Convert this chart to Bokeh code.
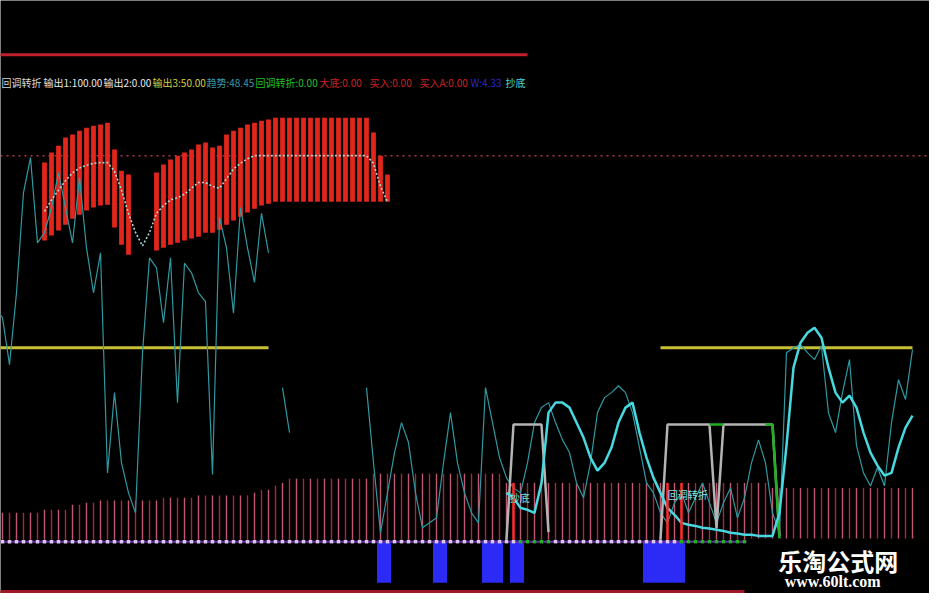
import math
from bokeh.plotting import figure
from bokeh.models import Range1d, Span, BoxAnnotation, Label, ColumnDataSource
from bokeh.core.properties import value
from bokeh.embed import file_html
from bokeh.resources import INLINE

nan = float("nan")
N = 132
idx = list(range(N))

# ---------------- data ----------------
legend_labels = ["回调转折", "输出1:100.00", "输出2:0.00", "输出3:50.00", "趋势:48.45",
                 "回调转折:0.00", "大底:0.00", "买入:0.00", "买入A:0.00", "W:4.33", "抄底"]

out1_level = 100.0
out3_level = 50.0
panel_top = 126.3
panel_bottom = -13.6
yellow_idx = list(range(0, 40)) + list(range(95, 132))

stick_top = ([nan] * 7 +
             [98.2, 100.8, 102.6, 104.7, 105.5, 106.5, 107.3, 107.8, 108.1, 108.6, 101.6, 96.1, 95.1,
              nan, nan, nan,
              95.6, 97.7, 99.0, 100.0, 100.8, 101.6, 102.9, 103.4, 102.1, 102.6, 105.5, 106.5, 107.3,
              108.1, 108.6, 109.1, 109.4] +
             [109.9] * 14 + [106.0, 100.0, 95.1] + [nan] * 75)
stick_bottom = ([nan] * 7 +
                [77.9, 79.2, 80.5, 82.0, 83.6, 84.6, 85.7, 86.5, 87.0, 87.2, 81.3, 76.8, 74.2,
                 nan, nan, nan,
                 75.3, 76.0, 76.8, 77.3, 77.9, 78.4, 78.9, 79.9, 79.9, 80.7, 82.0, 83.1, 84.1,
                 85.2, 86.2, 87.0, 87.5] +
                [88.0] * 17 + [nan] * 75)
mid_line = ([nan] * 7 +
            [85.5, 88.5, 91.0, 93.5, 95.5, 96.8, 97.5, 98.0, 98.2, 98.2, 96.0, 91.0, 85.0, 80.0,
             76.5, 80.0, 85.0, 87.0, 88.5, 89.0, 90.0, 91.5, 93.0, 93.0, 92.0, 91.5, 94.0, 96.5,
             98.0, 99.2] +
            [100.0] * 17 + [98.0, 92.0, 88.0] + [nan] * 75)

trend = [60.4, 57.8, 45.6, 64.3, 90.4, 99.5, 77.3, 80.0, 86.5, 95.6,
         86.5, 77.3, 94.3, 76.0, 64.3, 74.7, 17.4, 38.3, 20.0, 12.2,
         7.0, 48.7, 73.4, 70.8, 56.5, 73.4, 35.7, 72.0, 69.5, 64.3,
         62.0, 17.0, 83.9, 76.0, 59.0, 86.5, 76.0, 67.0, 85.0, 74.7,
         nan, 39.6, 27.9, nan, nan, nan, nan, nan, nan, nan,
         nan, nan, nan, 39.6, 20.0, 1.8, 12.2, 22.7, 30.5, 25.3,
         12.2, 3.1, 4.4, 5.7, 20.0, 33.1, 20.0, 12.2, 7.0, 4.4,
         39.6, 30.5, 21.4, 16.1, 13.5, 12.2, 20.0, 30.5, 34.4, 35.7,
         30.5, 26.0, 22.7, 14.8, 10.9, 20.0, 33.1, 37.0, 38.3, 40.1,
         38.3, 33.1, 24.0, 14.8, 12.2, 7.0, 4.4, 9.6, 12.2, 7.0,
         10.9, 14.8, 9.6, 4.4, 9.6, 13.5, 5.7, 10.9, 20.0, 26.0,
         20.0, 7.0, 1.8, 48.7, 50.0, 50.8, 48.7, 46.9, 50.5, 33.0,
         27.9, 38.3, 46.9, 24.5, 17.4, 14.0, 18.8, 14.0, 30.5, 41.7,
         36.5, 49.5]

smooth = ([nan] * 73 +
          [12.2, 10.9, 8.3, 7.8, 7.0, 14.8, 33.1, 35.7, 35.7, 34.4,
           30.5, 26.6, 21.4, 18.0, 20.0, 24.0, 30.5, 34.4, 35.7, 27.9,
           21.4, 16.1, 12.2, 8.3, 6.5, 4.4, 3.9, 3.6, 3.1, 2.9,
           2.6, 2.3, 1.8, 1.6, 1.3, 1.3, 1.0, 1.0, 1.0, 7.0,
           24.5, 44.8, 51.3, 53.9, 55.2, 52.6, 44.8, 38.3, 35.7, 37.5,
           34.4, 27.9, 22.7, 19.3, 16.7, 17.4, 24.0, 29.2, 32.3])

turn_step = ([nan] * 73 + [0, 30, 30, 30, 30, 30, 2] + [nan] * 15 +
             [0, 30, 30, 30, 30, 30, 30, 30, 3, 30, 30, 30, 30, 30, 30, 30, 30, 1] + [nan] * 19)
green_step = ([nan] * 102 + [30, 30, 30] + [nan] * 5 + [30, 30, 0] + [nan] * 19)

low_bar = ([7.0] * 7 + [7.8] * 4 + [9.1] * 2 + [9.6] * 2 + [10.2] * 9 + [10.9] * 5 +
           [11.5] * 8 + [12.2] + [13.0] * 2 + [14.1] + [14.8] + [15.9] * 12 + [17.2] * 19 +
           [14.8] * 38 + [13.5] * 21)

buy_idx = [74, 96, 98]
buy_val = [14.8, 14.8, 14.8]
blue_idx = [55, 56, 63, 64, 70, 71, 72, 74, 75, 93, 94, 95, 96, 97, 98]
green_dot_idx = [75, 76, 77, 78, 79] + list(range(98, 108))

note_labels = ["抄底", "回调转折"]
note_idx = [74.9, 98.9]
note_val = [10.9, 11.7]

# ---------------- layout / style ----------------
legend_x = [0.86, 6.86, 15.43, 22.43, 30.14, 37.14, 46.29, 53.43, 60.57, 67.86, 72.86]
legend_y = 119.0
legend_colors = ["#d8d8d8", "#e8e8e8", "#e8e8e8", "#d8d040", "#3a9aa8", "#20c020",
                 "#d02020", "#d02020", "#d02020", "#2828d0", "#50d8d8"]

p = figure(width=929, height=593, output_backend="svg", toolbar_location=None,
           x_range=Range1d(0.714, 133.43), y_range=Range1d(-14.0, 140.4),
           x_axis_location=None, y_axis_location=None,
           background_fill_color="black", border_fill_color="black",
           outline_line_color=None, min_border=0)
p.grid.visible = False

p.add_layout(Span(location=out1_level, dimension="width", line_color="#b03048",
                  line_dash="2 4", line_width=1.5, level="underlay"))

yellow_y = [out3_level if i in yellow_idx else nan for i in idx]
p.line(idx, yellow_y, line_color="#c8c034", line_width=3)

low_colors = ["#a82838" if i % 2 == 0 else "#c05a72" for i in idx]
p.segment(x0=idx, y0=[0] * N, x1=idx, y1=low_bar, line_color=low_colors, line_width=1.4)

p.vbar(x=idx, top=stick_top, bottom=stick_bottom, width=0.68, fill_color="#e3261c",
       line_color=None)

p.line(idx, trend, line_color="#2f98a0", line_width=1.2)
p.line(idx, mid_line, line_color="#a8d8d8", line_width=1.6, line_dash="2 2")
p.line(idx, turn_step, line_color="#b4b4b4", line_width=2.5)
p.line(idx, green_step, line_color="#20b020", line_width=2.5)
p.line(idx, smooth, line_color="#48d8e0", line_width=2.5)

p.segment(x0=buy_idx, y0=[0] * len(buy_idx), x1=buy_idx, y1=buy_val,
          line_color="#ff2a2a", line_width=2.5)

p.vbar(x=blue_idx, top=[-0.2] * len(blue_idx), bottom=[-11.2] * len(blue_idx), width=1.0,
       fill_color="#2b2bf5", line_color=None)

p.line(idx, [-0.5] * N, line_color="#6a2aa8", line_width=2)
dot_colors = ["#20b020" if i in green_dot_idx else "#d8c8f0" for i in idx]
p.scatter(idx, [-0.5] * N, marker="square", size=3.5, fill_color=dot_colors, line_color=None)

p.segment(x0=[-1], y0=[panel_top], x1=[76], y1=[panel_top], line_color="#c0202c", line_width=3)
p.segment(x0=[-1], y0=[panel_bottom], x1=[107], y1=[panel_bottom], line_color="#a01828",
          line_width=4)

src = ColumnDataSource(dict(x=legend_x, y=[legend_y] * len(legend_x), t=legend_labels,
                            c=legend_colors))
p.text(x="x", y="y", text="t", text_color="c", source=src, text_font=value("Noto Sans CJK SC"),
       text_font_size=value("10px"), text_align="left", text_baseline="middle")

nsrc = ColumnDataSource(dict(x=note_idx, y=note_val, t=note_labels))
p.text(x="x", y="y", text="t", source=nsrc, text_color="#70e8e8",
       text_font=value("Noto Sans CJK SC"), text_font_size=value("10px"),
       text_align="center", text_baseline="middle")

p.add_layout(BoxAnnotation(left=107.3, top=0.3, fill_color="black", fill_alpha=1.0,
                           line_alpha=0))
p.add_layout(Label(x=120.4, y=-5.4, text="乐淘公式网", text_font="Noto Sans CJK SC",
                   text_font_style="bold", text_font_size="24px", text_color="white",
                   text_align="center", text_baseline="middle"))
p.add_layout(Label(x=119.6, y=-11.0, text="www.60lt.com", text_font="Liberation Serif",
                   text_font_style="bold", text_font_size="16px", text_color="white",
                   text_align="center", text_baseline="middle"))

open("out.html", "w").write(file_html(p, INLINE))
